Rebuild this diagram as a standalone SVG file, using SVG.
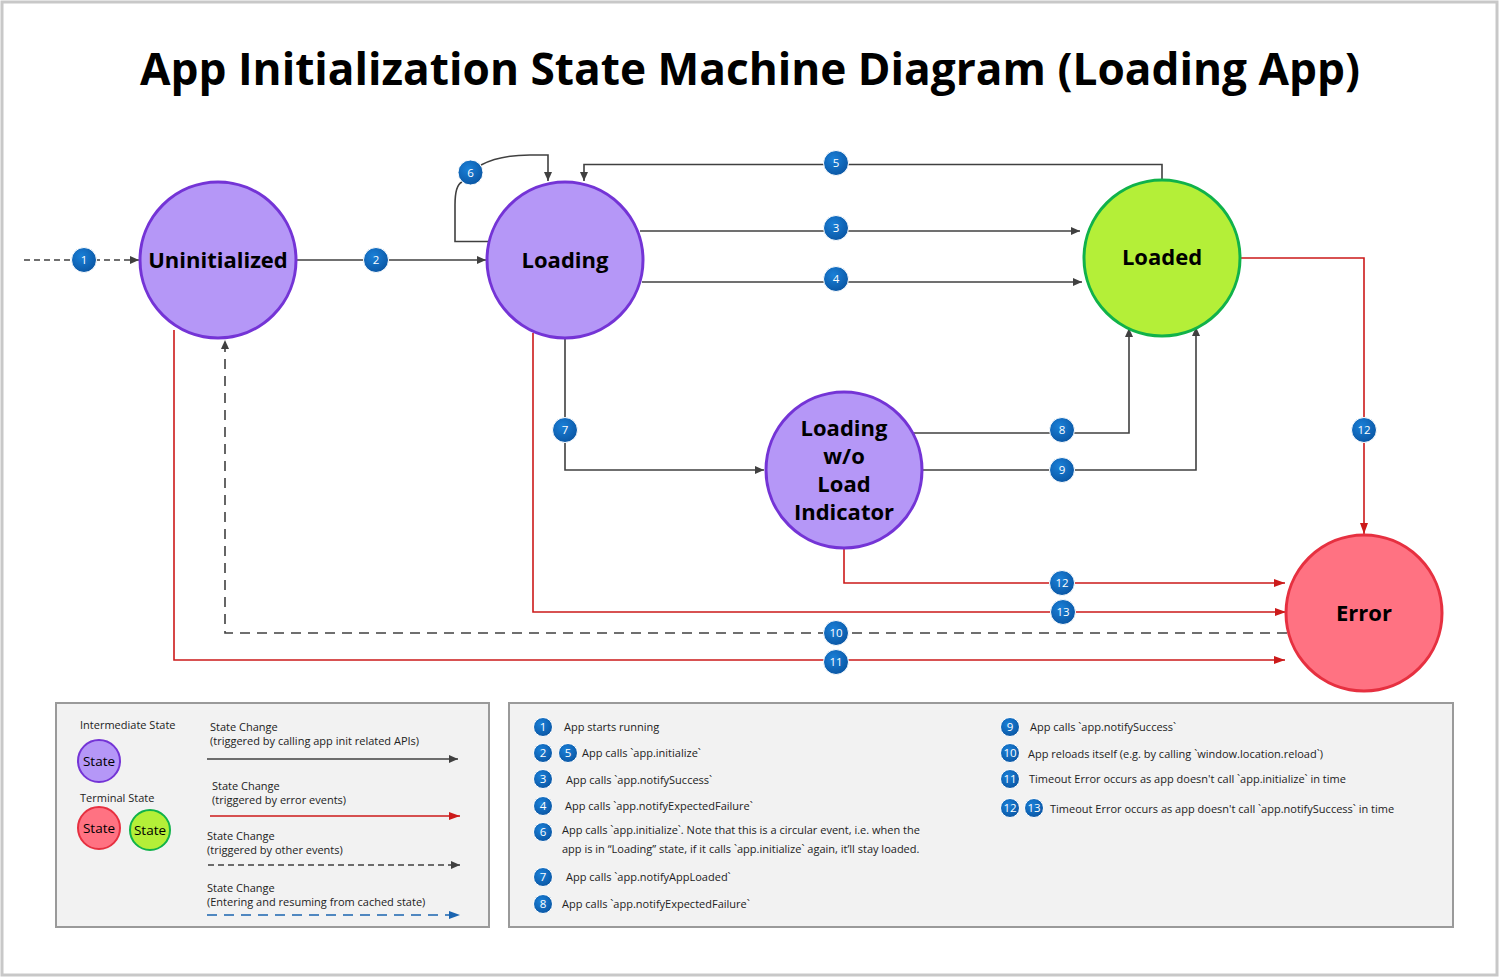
<svg xmlns="http://www.w3.org/2000/svg" width="1500" height="978" viewBox="0 0 1500 978">
<defs>
<style>
.frame{fill:#fff;stroke:#c8c8c8;stroke-width:3}
.title{font-family:"Open Sans","Noto Sans",sans-serif;font-weight:700;font-size:44px;fill:#000}
.st{font-family:"Open Sans","Noto Sans",sans-serif;font-weight:700;font-size:22px;fill:#000;text-anchor:middle}
.purple{fill:#b597f7;stroke:#7434d6;stroke-width:3}
.green{fill:#b4ef38;stroke:#10b24a;stroke-width:3}
.red{fill:#ff7282;stroke:#e63040;stroke-width:3}
.ln{fill:none;stroke:#404040;stroke-width:1.6}
.lr{fill:none;stroke:#cc1a1a;stroke-width:1.6}
.ld{fill:none;stroke:#404040;stroke-width:1.6;stroke-dasharray:6 4}
.ld2{fill:none;stroke:#404040;stroke-width:1.6;stroke-dasharray:10 7}
.lb{fill:none;stroke:#1a64b0;stroke-width:1.6;stroke-dasharray:10 7}
.badge{fill:url(#bg);stroke:#ffffff;stroke-width:1}
.bt{font-family:"Open Sans","Noto Sans",sans-serif;font-size:11.5px;fill:#fff;text-anchor:middle}
.box{fill:#f2f2f2;stroke:#9a9a9a;stroke-width:2}
.lt{font-family:"Open Sans","Noto Sans",sans-serif;font-size:11px;fill:#222}
.ls{font-family:"Open Sans","Noto Sans",sans-serif;font-size:13.5px;fill:#000;text-anchor:middle}
</style>
<radialGradient id="bg" cx="0.4" cy="0.35" r="0.7">
<stop offset="0" stop-color="#1a80d8"/>
<stop offset="1" stop-color="#0a55a2"/>
</radialGradient>
<marker id="ak" markerWidth="10" markerHeight="10" refX="9" refY="5" orient="auto" markerUnits="userSpaceOnUse"><path d="M0,1 L9,5 L0,9 Z" fill="#404040"/></marker>
<marker id="ar" markerWidth="12" markerHeight="10" refX="11" refY="5" orient="auto" markerUnits="userSpaceOnUse"><path d="M0,1 L11,5 L0,9 Z" fill="#cc1a1a"/></marker>
<marker id="ab" markerWidth="12" markerHeight="10" refX="11" refY="5" orient="auto" markerUnits="userSpaceOnUse"><path d="M0,1 L11,5 L0,9 Z" fill="#1a64b0"/></marker>
</defs>
<rect class="frame" x="2" y="2" width="1495" height="973"/>
<text class="title" x="750" y="85" text-anchor="middle" textLength="1220" lengthAdjust="spacingAndGlyphs">App Initialization State Machine Diagram (Loading App)</text>

<g id="connectors">
<path class="ld" d="M24,260 L139,260" marker-end="url(#ak)"/>
<path class="ln" d="M297,260 L486,260" marker-end="url(#ak)"/>
<path class="ln" d="M489,241.5 L455,241.5 L455,205 Q455,185 462,182"/>
<path class="ln" d="M481,165 Q500,155 530,155 L548,155 L548,181" marker-end="url(#ak)"/>
<path class="ln" d="M1162,180 L1162,164.5 L584,164.5 L584,181" marker-end="url(#ak)"/>
<path class="ln" d="M640,231 L1080,231" marker-end="url(#ak)"/>
<path class="ln" d="M642,282 L1082,282" marker-end="url(#ak)"/>
<path class="ln" d="M565,338 L565,470 L764,470" marker-end="url(#ak)"/>
<path class="ln" d="M913,433 L1129,433 L1129,328" marker-end="url(#ak)"/>
<path class="ln" d="M921,470 L1196,470 L1196,327" marker-end="url(#ak)"/>
<path class="lr" d="M1240,258 L1364,258 L1364,534" marker-end="url(#ar)"/>
<path class="lr" d="M844,548 L844,583 L1285,583" marker-end="url(#ar)"/>
<path class="lr" d="M533,333 L533,612 L1286,612" marker-end="url(#ar)"/>
<path class="ld2" d="M1287,633 L225,633 L225,340" marker-end="url(#ak)"/>
<path class="lr" d="M174,330 L174,660 L1285,660" marker-end="url(#ar)"/>
</g>

<g id="node-uninitialized"><circle class="purple" cx="218" cy="260" r="78"/><text class="st" x="218" y="268">Uninitialized</text></g>
<g id="node-loading"><circle class="purple" cx="565" cy="260" r="78"/><text class="st" x="565" y="268">Loading</text></g>
<g id="node-loaded"><circle class="green" cx="1162" cy="258" r="78"/><text class="st" x="1162" y="265">Loaded</text></g>
<g id="node-lwoli"><circle class="purple" cx="844" cy="470" r="78"/><text class="st" x="844" y="436">Loading</text><text class="st" x="844" y="464">w/o</text><text class="st" x="844" y="492">Load</text><text class="st" x="844" y="520">Indicator</text></g>
<g id="node-error"><circle class="red" cx="1364" cy="613" r="78"/><text class="st" x="1364" y="621">Error</text></g>

<g id="badges">
<circle class="badge" cx="84" cy="260" r="12.5"/><text class="bt" x="84" y="264">1</text>
<circle class="badge" cx="376" cy="260" r="12.5"/><text class="bt" x="376" y="264">2</text>
<circle class="badge" cx="470.5" cy="172.5" r="12.5"/><text class="bt" x="470.5" y="176.5">6</text>
<circle class="badge" cx="836" cy="163" r="12.5"/><text class="bt" x="836" y="167">5</text>
<circle class="badge" cx="836" cy="228" r="12.5"/><text class="bt" x="836" y="232">3</text>
<circle class="badge" cx="836" cy="279" r="12.5"/><text class="bt" x="836" y="283">4</text>
<circle class="badge" cx="565" cy="430" r="12.5"/><text class="bt" x="565" y="434">7</text>
<circle class="badge" cx="1062" cy="430" r="12.5"/><text class="bt" x="1062" y="434">8</text>
<circle class="badge" cx="1062" cy="470" r="12.5"/><text class="bt" x="1062" y="474">9</text>
<circle class="badge" cx="1364" cy="430" r="12.5"/><text class="bt" x="1364" y="434">12</text>
<circle class="badge" cx="1062" cy="583" r="12.5"/><text class="bt" x="1062" y="587">12</text>
<circle class="badge" cx="1063" cy="612" r="12.5"/><text class="bt" x="1063" y="616">13</text>
<circle class="badge" cx="836" cy="633" r="12.5"/><text class="bt" x="836" y="637">10</text>
<circle class="badge" cx="836" cy="662" r="12.5"/><text class="bt" x="836" y="666">11</text>
</g>

<g id="legend-left">
<rect class="box" x="56" y="703" width="433" height="224"/>
<text class="lt" x="80" y="729">Intermediate State</text>
<circle class="purple" cx="99" cy="761" r="21" style="stroke-width:2"/><text class="ls" x="99" y="766">State</text>
<text class="lt" x="80" y="802">Terminal State</text>
<circle class="red" cx="99" cy="828" r="21" style="stroke-width:2"/><text class="ls" x="99" y="833">State</text>
<circle class="green" cx="150" cy="830" r="20" style="stroke-width:2"/><text class="ls" x="150" y="835">State</text>
<text class="lt" x="210" y="731">State Change</text>
<text class="lt" x="210" y="745">(triggered by calling app init related APIs)</text>
<path class="ln" d="M207,759 L458,759" marker-end="url(#ak)"/>
<text class="lt" x="212" y="790">State Change</text>
<text class="lt" x="212" y="804">(triggered by error events)</text>
<path class="lr" d="M210,816 L460,816" marker-end="url(#ar)"/>
<text class="lt" x="207" y="840">State Change</text>
<text class="lt" x="207" y="854">(triggered by other events)</text>
<path class="ld" d="M208,865 L460,865" marker-end="url(#ak)"/>
<text class="lt" x="207" y="892">State Change</text>
<text class="lt" x="207" y="906">(Entering and resuming from cached state)</text>
<path class="lb" d="M207,915 L460,915" marker-end="url(#ab)"/>
</g>

<g id="legend-right">
<rect class="box" x="509" y="703" width="944" height="224"/>
<circle class="badge" cx="543" cy="727" r="9.5"/><text class="bt" x="543" y="731">1</text>
<text class="lt" x="564" y="731">App starts running</text>
<circle class="badge" cx="543" cy="753" r="9.5"/><text class="bt" x="543" y="757">2</text>
<circle class="badge" cx="568" cy="753" r="9.5"/><text class="bt" x="568" y="757">5</text>
<text class="lt" x="582" y="757">App calls `app.initialize`</text>
<circle class="badge" cx="543" cy="779" r="9.5"/><text class="bt" x="543" y="783">3</text>
<text class="lt" x="566" y="784">App calls `app.notifySuccess`</text>
<circle class="badge" cx="543" cy="806" r="9.5"/><text class="bt" x="543" y="810">4</text>
<text class="lt" x="565" y="810">App calls `app.notifyExpectedFailure`</text>
<circle class="badge" cx="543" cy="832" r="9.5"/><text class="bt" x="543" y="836">6</text>
<text class="lt" x="562" y="834">App calls `app.initialize`. Note that this is a circular event, i.e. when the</text>
<text class="lt" x="562" y="853">app is in “Loading” state, if it calls `app.initialize` again, it’ll stay loaded.</text>
<circle class="badge" cx="543" cy="877" r="9.5"/><text class="bt" x="543" y="881">7</text>
<text class="lt" x="566" y="881">App calls `app.notifyAppLoaded`</text>
<circle class="badge" cx="543" cy="904" r="9.5"/><text class="bt" x="543" y="908">8</text>
<text class="lt" x="562" y="908">App calls `app.notifyExpectedFailure`</text>
<circle class="badge" cx="1010" cy="727" r="9.5"/><text class="bt" x="1010" y="731">9</text>
<text class="lt" x="1030" y="731">App calls `app.notifySuccess`</text>
<circle class="badge" cx="1010" cy="753" r="9.5"/><text class="bt" x="1010" y="757">10</text>
<text class="lt" x="1028" y="758">App reloads itself (e.g. by calling `window.location.reload`)</text>
<circle class="badge" cx="1010" cy="779" r="9.5"/><text class="bt" x="1010" y="783">11</text>
<text class="lt" x="1029" y="783">Timeout Error occurs as app doesn't call `app.initialize` in time</text>
<circle class="badge" cx="1010" cy="808" r="9.5"/><text class="bt" x="1010" y="812">12</text>
<circle class="badge" cx="1034" cy="808" r="9.5"/><text class="bt" x="1034" y="812">13</text>
<text class="lt" x="1050" y="813">Timeout Error occurs as app doesn't call `app.notifySuccess` in time</text>
</g>
</svg>
